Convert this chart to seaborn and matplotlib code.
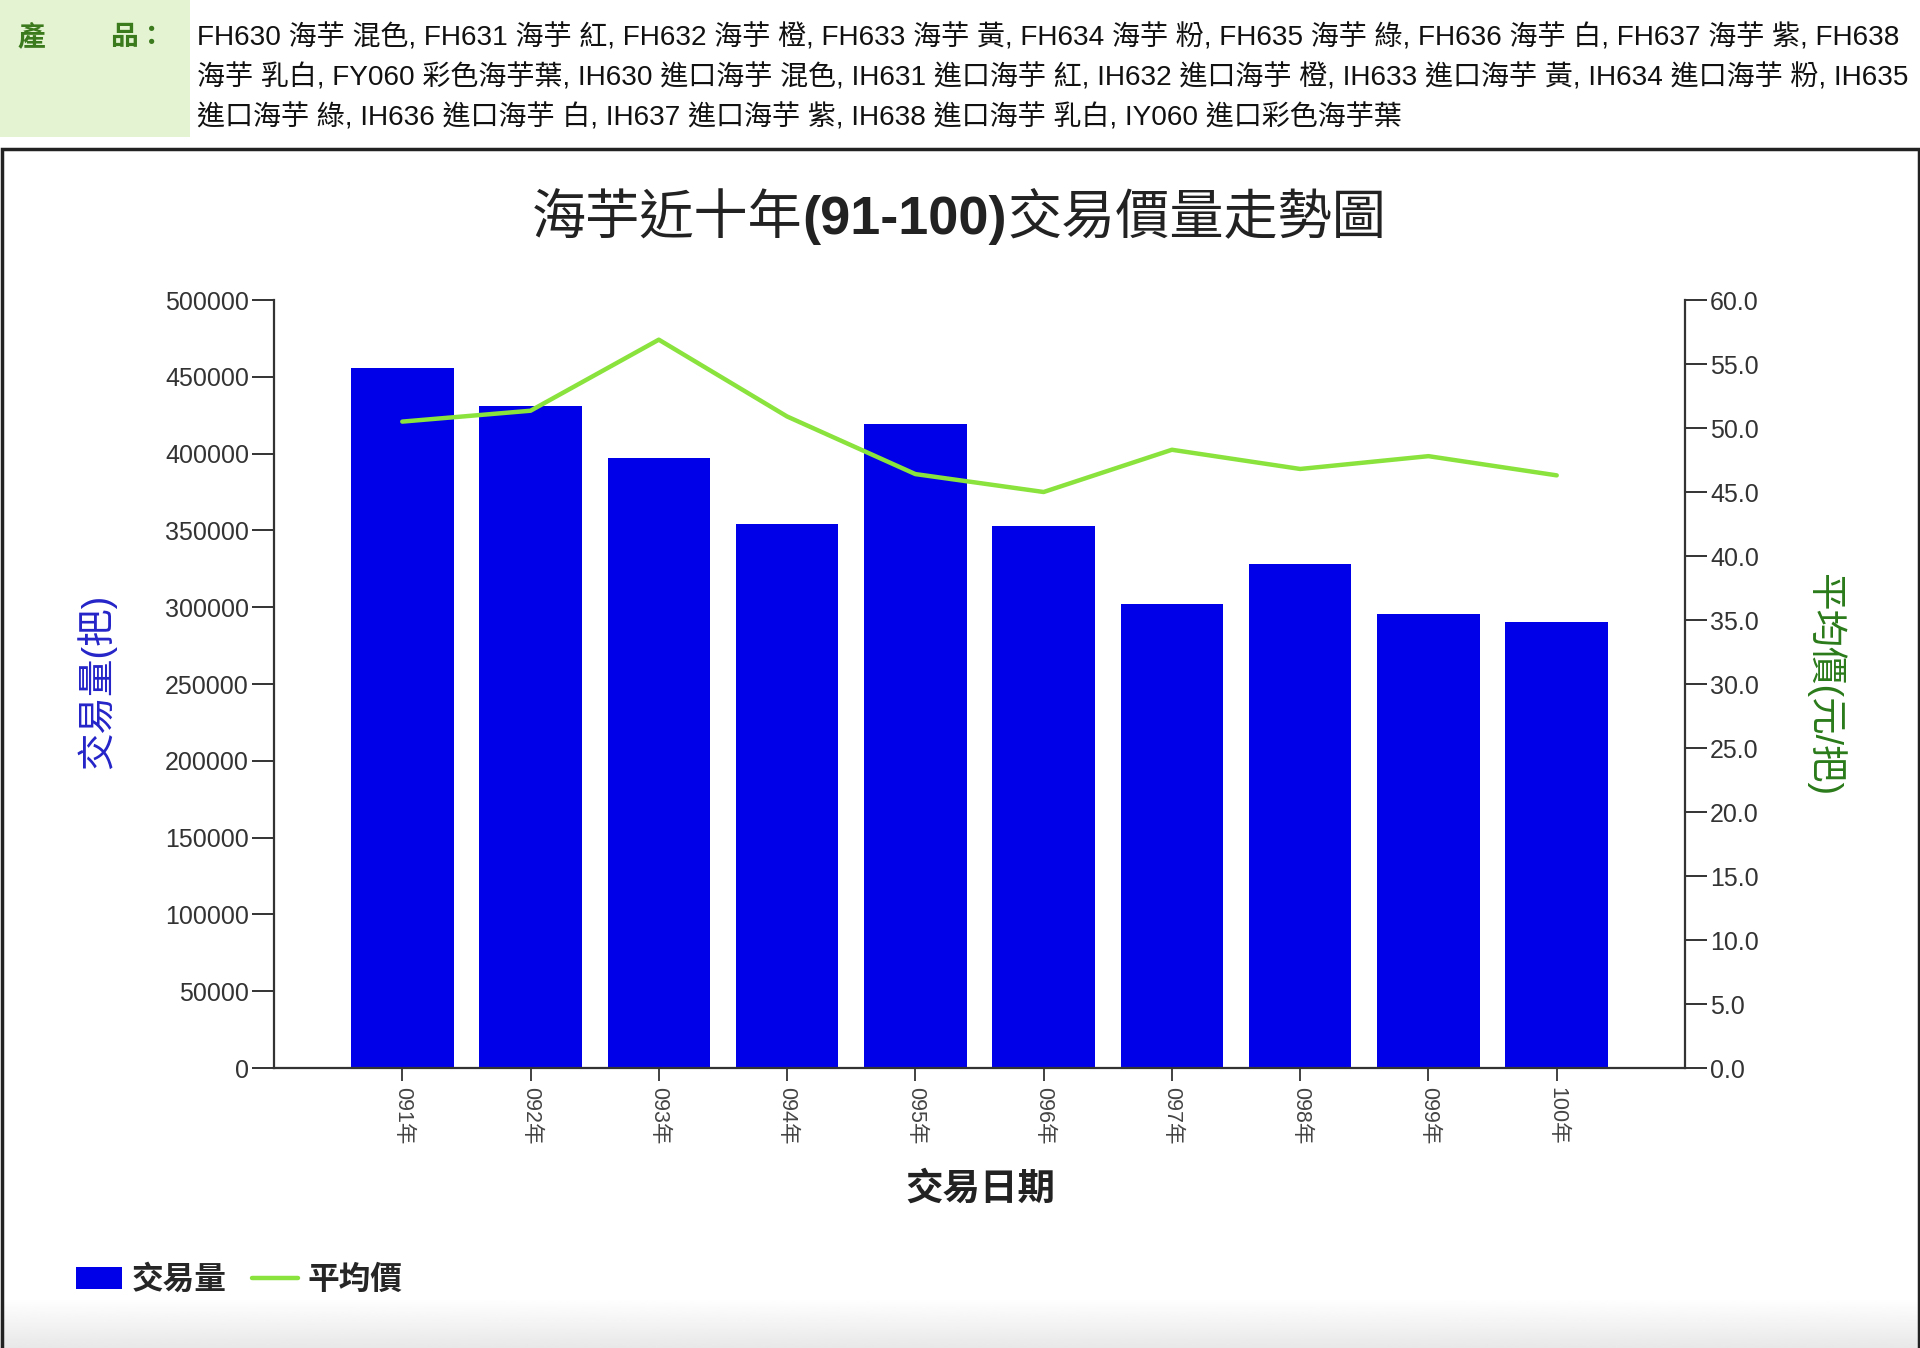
import numpy as np
import pandas as pd
import matplotlib
matplotlib.use("Agg")
import matplotlib.pyplot as plt
import seaborn as sns
from matplotlib.patches import Rectangle, Patch
from matplotlib.lines import Line2D

# ---------------- data ----------------
years = ["091年", "092年", "093年", "094年", "095年", "096年", "097年", "098年", "099年", "100年"]
volume = [455500, 431000, 397300, 354400, 419100, 352700, 302300, 328100, 295800, 290400]
avg_price = [50.5, 51.35, 56.9, 50.9, 46.4, 45.0, 48.3, 46.8, 47.8, 46.3]
left_ticks = [0, 50000, 100000, 150000, 200000, 250000, 300000, 350000, 400000, 450000, 500000]
right_ticks = [0, 5, 10, 15, 20, 25, 30, 35, 40, 45, 50, 55, 60]

title_parts = ["海芋近十年", "(91-100)", "交易價量走勢圖"]
x_label = "交易日期"
y_left_label = "交易量(把)"
y_right_label = "平均價(元/把)"
legend_labels = ["交易量", "平均價"]
header_lines = [
    "FH630 海芋 混色, FH631 海芋 紅, FH632 海芋 橙, FH633 海芋 黃, FH634 海芋 粉, FH635 海芋 綠, FH636 海芋 白, FH637 海芋 紫, FH638",
    "海芋 乳白, FY060 彩色海芋葉, IH630 進口海芋 混色, IH631 進口海芋 紅, IH632 進口海芋 橙, IH633 進口海芋 黃, IH634 進口海芋 粉, IH635",
    "進口海芋 綠, IH636 進口海芋 白, IH637 進口海芋 紫, IH638 進口海芋 乳白, IY060 進口彩色海芋葉",
]

BAR_C = "#0000e8"
LINE_C = "#8ae23c"
FAM = ["Liberation Sans", "Noto Sans CJK TC", "DejaVu Sans"]

sns.set_theme(style="white")
plt.rcParams["font.family"] = FAM

W, H = 1920, 1348
fig = plt.figure(figsize=(W / 100, H / 100), dpi=100)
fig.patch.set_facecolor("white")

def fx(px):
    return px / W

def fy(py):
    return 1 - py / H

# bottom gradient of the chart frame
gax = fig.add_axes([0, 0, 1, 50 / H], zorder=-5)
grad = np.linspace(1.0, 0.91, 64).reshape(-1, 1)
gax.imshow(np.repeat(grad, 2, axis=1), aspect="auto", cmap="gray", vmin=0, vmax=1,
           extent=[0, 1, 0, 1], origin="upper")
gax.axis("off")

# ---------------- main axes ----------------
ax = fig.add_axes([fx(274), fy(1068), fx(1685) - fx(274), fy(300) - fy(1068)])
df = pd.DataFrame({"year": years, "volume": volume, "price": avg_price})
sns.barplot(data=df, x="year", y="volume", color=BAR_C, saturation=1, width=0.8,
            linewidth=0, ax=ax)
ax.set_xlim(-1, len(years))
ax.set_ylim(0, 500000)
ax.set_yticks(left_ticks)
ax.set_yticklabels([str(v) for v in left_ticks])
ax.set_xlabel("")
ax.set_ylabel("")

ax2 = ax.twinx()
sns.lineplot(x=np.arange(len(years)), y=df["price"], color=LINE_C, linewidth=3.2, ax=ax2)
ax2.set_ylim(0, 60)
ax2.set_yticks(right_ticks)
ax2.set_yticklabels([f"{v:.1f}" for v in right_ticks])
ax2.set_ylabel("")
ax2.set_xlim(-1, len(years))

for a in (ax, ax2):
    a.spines["top"].set_visible(False)
    a.set_facecolor("none")
ax.spines["right"].set_visible(False)
ax2.spines["left"].set_visible(False)
ax2.spines["bottom"].set_visible(False)
for s in ("left", "bottom"):
    ax.spines[s].set_color("#333333")
    ax.spines[s].set_linewidth(1.6)
ax2.spines["right"].set_color("#333333")
ax2.spines["right"].set_linewidth(1.6)

ax.tick_params(axis="y", left=True, length=16, width=1.4, color="#333333",
               labelsize=18, labelcolor="#333333", pad=2)
ax2.tick_params(axis="y", right=True, left=False, length=16, width=1.4, color="#333333",
                labelsize=18, labelcolor="#333333", pad=2)
ax.tick_params(axis="x", bottom=True, length=9, width=1.3, color="#333333",
               labelsize=15.5, labelcolor="#444444", pad=5)
for lab in ax.get_xticklabels():
    lab.set_rotation(270)

# ---------------- texts ----------------
# title: CJK parts regular, the number range bold, centred as a whole
renderer = fig.canvas.get_renderer()
t_props = [dict(fontsize=39, color="#222222"),
           dict(fontsize=39, color="#222222", fontweight="bold"),
           dict(fontsize=39, color="#222222")]
tmp = [fig.text(0, 0, p, **kw) for p, kw in zip(title_parts, t_props)]
widths = [t.get_window_extent(renderer).width for t in tmp]
for t in tmp:
    t.remove()
x0 = 959 - sum(widths) / 2
for p, kw, w in zip(title_parts, t_props, widths):
    fig.text(fx(x0), fy(220), p, ha="left", va="center", **kw)
    x0 += w

fig.text(fx(980), fy(1190), x_label, ha="center", va="center", fontsize=27,
         fontweight="bold", color="#222222")
fig.text(fx(96), fy(681), y_left_label, ha="center", va="center", fontsize=27,
         rotation=90, color="#2424c8")
fig.text(fx(1825), fy(685), y_right_label, ha="center", va="center", fontsize=27,
         rotation=270, color="#2a7a1a")

# legend
handles = [Patch(facecolor=BAR_C, edgecolor="none"),
           Line2D([], [], color=LINE_C, linewidth=3.2)]
fig.legend(handles=handles, labels=legend_labels, loc="center left",
           bbox_to_anchor=(fx(76), fy(1281)), ncol=2, frameon=False,
           handlelength=1.45, handleheight=0.7, handletextpad=0.3, columnspacing=0.8,
           borderpad=0, borderaxespad=0,
           prop={"family": FAM, "size": 22.8, "weight": "bold"})

# header
fig.patches.append(Rectangle((0, fy(137)), fx(190), 137 / H, transform=fig.transFigure,
                             facecolor="#e4f4d2", edgecolor="none", zorder=-2))
fig.text(fx(18), fy(38), "產", ha="left", va="center", fontsize=20,
         fontweight="bold", color="#3c7a1e")
fig.text(fx(110), fy(38), "品：", ha="left", va="center", fontsize=20,
         fontweight="bold", color="#3c7a1e")
for i, line in enumerate(header_lines):
    fig.text(fx(197), fy(38 + 40 * i), line, ha="left", va="center", fontsize=20.2,
             color="#111111")

# chart frame
fig.patches.append(Rectangle((fx(1.5), -0.01), fx(1917), fy(149) + 0.01,
                             transform=fig.transFigure, fill=False,
                             edgecolor="#222222", linewidth=2.5, zorder=5))

fig.savefig("out.png", dpi=100, facecolor="white")
